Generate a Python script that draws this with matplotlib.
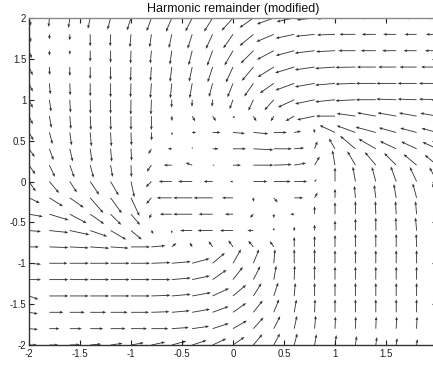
import matplotlib
matplotlib.use("Agg")
import matplotlib.pyplot as plt
import numpy as np

plt.rcParams['font.family'] = ['Liberation Sans', 'DejaVu Sans']

#------------------DATA------------------#
# grid of arrow tails
x_grid = [-2.0, -1.8, -1.6, -1.4, -1.2, -1.0, -0.8, -0.6, -0.4, -0.2, 0.0,
          0.2, 0.4, 0.6, 0.8, 1.0, 1.2, 1.4, 1.6, 1.8, 2.0]
y_grid = [2.0, 1.8, 1.6, 1.4, 1.2, 1.0, 0.8, 0.6, 0.4, 0.2, 0.0,
          -0.2, -0.4, -0.6, -0.8, -1.0, -1.2, -1.4, -1.6, -1.8, -2.0]

# arrow direction (deg, 0 = right, 90 = up), rows from y=2 down to y=-2
angle = [
    [285, 265, 262, 258, 255, 252, 250, 247, 243, 238, 228, 215, 200, 192, 186, 182, 180, 180, 180, 180, 180],
    [285, 270, 270, 270, 268, 265, 262, 258, 252, 245, 235, 220, 203, 192, 186, 182, 180, 180, 180, 180, 180],
    [290, 270, 270, 270, 270, 268, 265, 262, 256, 250, 240, 225, 208, 195, 187, 183, 180, 180, 180, 180, 180],
    [295, 272, 270, 270, 270, 268, 266, 263, 258, 252, 245, 230, 212, 197, 188, 184, 181, 180, 180, 180, 180],
    [295, 275, 272, 270, 270, 268, 266, 264, 260, 255, 248, 235, 215, 200, 190, 185, 182, 180, 180, 180, 180],
    [295, 278, 273, 271, 270, 269, 268, 268, 268, 265, 250, 245, 228, 205, 192, 186, 183, 180, 178, 178, 178],
    [295, 280, 275, 273, 271, 270, 270, 272, 300, 305, 310, 300, 240, 210, 192, 180, 172, 170, 170, 170, 170],
    [300, 285, 278, 275, 273, 272, 272, 280, 0, 0, 355, 355, 0, 10, 100, 155, 160, 165, 165, 165, 165],
    [305, 290, 283, 278, 275, 273, 240, 180, 90, 0, 0, 357, 0, 5, 70, 120, 140, 150, 155, 155, 155],
    [305, 295, 290, 285, 280, 272, 235, 180, 160, 0, 0, 0, 2, 10, 60, 100, 120, 130, 135, 140, 140],
    [304, 310, 303, 304, 300, 282, 225, 180, 180, 180, 180, 0, 0, 0, 45, 90, 100, 105, 110, 115, 118],
    [334, 328, 325, 311, 306, 295, 230, 180, 180, 180, 180, 270, 310, 0, 60, 90, 95, 97, 100, 105, 108],
    [350, 343, 332, 325, 315, 310, 240, 180, 180, 180, 180, 225, 270, 180, 90, 90, 90, 92, 93, 95, 100],
    [355, 354, 348, 341, 330, 320, 300, 270, 180, 180, 180, 180, 90, 90, 90, 90, 90, 90, 92, 95, 95],
    [0, 358, 357, 356, 356, 0, 5, 40, 120, 125, 125, 130, 125, 90, 90, 90, 90, 90, 90, 92, 92],
    [355, 0, 0, 0, 0, 0, 2, 5, 15, 40, 60, 68, 85, 90, 90, 90, 90, 90, 90, 90, 90],
    [0, 0, 0, 0, 0, 0, 0, 5, 12, 35, 52, 63, 80, 88, 90, 90, 90, 90, 90, 90, 90],
    [340, 0, 0, 0, 0, 0, 2, 5, 10, 25, 40, 58, 72, 85, 90, 90, 90, 90, 90, 90, 90],
    [350, 0, 0, 0, 0, 0, 2, 5, 10, 20, 35, 52, 68, 80, 88, 90, 90, 90, 90, 90, 90],
    [355, 0, 0, 0, 0, 0, 0, 4, 8, 18, 30, 48, 63, 78, 85, 88, 88, 88, 88, 88, 88],
    [0, 0, 2, 5, 8, 10, 12, 15, 18, 25, 35, 50, 62, 75, 80, 82, 82, 82, 82, 82, 82],
]

# arrow magnitude (as drawn), same layout
magnitude = [
    [8, 9, 10, 11, 12, 13, 14, 15, 15, 16, 17, 17, 18, 18, 18, 18, 17, 15, 13, 11, 10],
    [8, 5, 6, 12, 12, 13, 13, 14, 15, 16, 17, 18, 19, 19, 19, 18, 16, 14, 13, 12, 11],
    [8, 5, 4, 11, 12, 13, 13, 14, 15, 16, 17, 18, 19, 19, 20, 19, 17, 15, 14, 13, 12],
    [9, 8, 9, 12, 13, 14, 14, 15, 15, 16, 17, 18, 19, 20, 20, 20, 20, 19, 18, 17, 16],
    [9, 11, 12, 13, 14, 14, 15, 15, 15, 14, 15, 16, 17, 20, 20, 20, 20, 20, 20, 19, 18],
    [9, 12, 13, 14, 14, 15, 15, 8, 7, 7, 10, 12, 14, 18, 20, 20, 20, 20, 20, 19, 18],
    [9, 12, 13, 14, 14, 14, 14, 5, 6, 6, 3, 6, 6, 10, 18, 19, 19, 19, 19, 18, 17],
    [9, 12, 13, 14, 14, 13, 8, 3, 4, 8, 12, 15, 13, 7, 4, 17, 20, 21, 18, 17, 16],
    [10, 12, 13, 13, 13, 12, 6, 4, 2, 6, 13, 20, 18, 10, 8, 12, 20, 20, 18, 17, 16],
    [11, 13, 13, 13, 12, 12, 8, 8, 7, 2, 8, 20, 18, 12, 10, 15, 16, 17, 17, 17, 16],
    [12, 15, 13, 16, 16, 16, 8, 13, 14, 9, 3, 14, 17, 13, 3, 14, 15, 15, 16, 16, 16],
    [12, 16, 17, 20, 19, 20, 8, 15, 19, 19, 11, 4, 6, 9, 6, 9, 12, 13, 14, 15, 15],
    [14, 20, 19, 17, 15, 14, 5, 12, 19, 14, 8, 5, 4, 4, 8, 12, 13, 13, 13, 13, 13],
    [12, 19, 20, 18, 18, 14, 4, 3, 12, 15, 13, 6, 3, 4, 6, 10, 12, 13, 13, 13, 13],
    [10, 19, 19, 19, 18, 19, 14, 6, 5, 7, 8, 8, 7, 10, 11, 12, 13, 13, 13, 13, 13],
    [12, 18, 19, 19, 19, 19, 19, 19, 18, 16, 16, 15, 14, 14, 14, 13, 13, 13, 13, 13, 13],
    [12, 19, 19, 19, 19, 19, 19, 19, 18, 17, 16, 15, 14, 14, 14, 13, 13, 13, 13, 13, 13],
    [10, 19, 19, 19, 19, 19, 19, 19, 19, 18, 17, 15, 14, 13, 13, 13, 13, 13, 13, 13, 13],
    [9, 14, 15, 16, 17, 18, 18, 18, 18, 17, 16, 15, 14, 13, 13, 13, 13, 13, 13, 13, 13],
    [9, 10, 12, 13, 15, 16, 17, 17, 17, 17, 16, 15, 14, 13, 13, 12, 12, 12, 12, 12, 12],
    [8, 9, 10, 11, 12, 13, 14, 15, 15, 15, 14, 14, 13, 12, 11, 10, 9, 8, 7, 6, 5],
]

x_ticks = [-2, -1.5, -1, -0.5, 0, 0.5, 1, 1.5]
x_ticklabels = ['-2', '-1.5', '-1', '-0.5', '0', '0.5', '1', '1.5']
y_ticks = [-2, -1.5, -1, -0.5, 0, 0.5, 1, 1.5, 2]
y_ticklabels = ['-2', '-1.5', '-1', '-0.5', '0', '0.5', '1', '1.5', '2']

#----------------------------------------#

X, Y = np.meshgrid(x_grid, y_grid)
a = np.radians(np.array(angle, dtype=float))
mag = np.array(magnitude, dtype=float)
U = mag*np.cos(a)
V = mag*np.sin(a)

fig = plt.figure(figsize=(4.33, 3.69), dpi=100)
ax = fig.add_axes([29/433, 24/369, 408/433, 327/369])

ax.quiver(X, Y, U, V, angles='uv', scale_units='dots', scale=1, pivot='tail',
          color='#333333', width=0.0021, headwidth=3.4, headlength=4.2,
          headaxislength=3.8, minshaft=1.2)

ax.set_xlim(-2, 2)
ax.set_ylim(-2, 2)
ax.set_xticks(x_ticks)
ax.set_xticklabels(x_ticklabels)
ax.set_yticks(y_ticks)
ax.set_yticklabels(y_ticklabels)
ax.tick_params(direction='in', length=3.5, width=0.8, labelsize=7,
               top=True, right=True, pad=3, colors='#222222')
ax.tick_params(axis='y', pad=2)

for s in ['left', 'bottom']:
    ax.spines[s].set_color('#333333')
    ax.spines[s].set_linewidth(1.0)
for s in ['top', 'right']:
    ax.spines[s].set_color('#8a8a8a')
    ax.spines[s].set_linewidth(1.0)

ax.set_title("Harmonic remainder (modified)", fontsize=9, pad=4.5, color='#111111')

fig.savefig("out.png", dpi=100)
